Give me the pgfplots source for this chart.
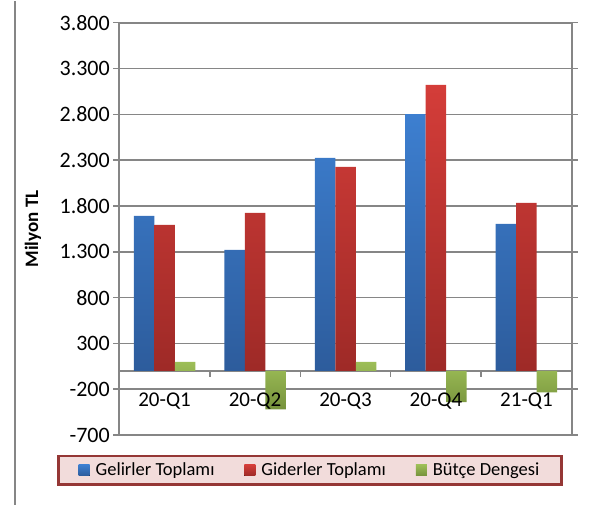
\documentclass[border=0pt]{standalone}
\usepackage{pgfplots}
\pgfplotsset{compat=1.18}
\usepackage{fontspec}
\setmainfont{Carlito}
\definecolor{gridgray}{HTML}{868686}
\definecolor{blueT}{HTML}{3D7FD0}
\definecolor{blueB}{HTML}{2D5C9C}
\definecolor{redT}{HTML}{D43D39}
\definecolor{redB}{HTML}{9E2A27}
\definecolor{greenT}{HTML}{9DBE57}
\definecolor{greenB}{HTML}{76923C}
\definecolor{legred}{HTML}{953735}
\definecolor{legpink}{HTML}{F2DCDB}
\pgfplotstableread{
x gel gid but
0 1692 1594 98
1 1321 1725 -420
2 2325 2227 98
3 2802 3122 -340
4 1605 1834 -235
}\data
\begin{document}
\begin{tikzpicture}
\draw[gridgray, line width=1.5bp] (15bp,0bp) -- (15bp,504bp);
\begin{axis}[
  set layers=standard,
  at={(119.3bp,69.7bp)}, anchor=south west,
  scale only axis, width=452.4bp, height=412.3bp,
  ybar=0pt, bar width=20.5bp,
  xmin=-0.5, xmax=4.5, ymin=-700, ymax=3800,
  xtick={0,1,2,3,4}, xticklabels={20-Q1,20-Q2,20-Q3,20-Q4,21-Q1},
  x tick style={draw=none},
  xticklabel style={anchor=north, inner sep=0pt, yshift=48bp, font=\fontsize{21bp}{24bp}\selectfont, /pgfplots/on layer=axis foreground},
  ytick={-700,-200,...,3800},
  yticklabel style={font=\fontsize{22bp}{25bp}\selectfont},
  /pgf/number format/.cd, 1000 sep={.}, assume math mode=true, /pgfplots/.cd,
  ymajorgrids, grid style={gridgray, line width=1.5bp},
  axis line style={gridgray, line width=1.8bp},
  y tick style={gridgray, line width=1.5bp},
  tick align=outside, major tick length=6bp,
  extra y ticks={0}, extra y tick labels={},
  extra y tick style={grid=major, y tick style={draw=none}},
  ylabel={Milyon TL},
  ylabel style={at={(axis description cs:-0.1908,0.5)}, anchor=center, font=\bfseries\fontsize{19bp}{21bp}\selectfont},
  legend columns=3,
  legend style={at={(0.4215,-0.0854)}, anchor=center, draw=legred, line width=2.5bp, fill=legpink,
    font=\fontsize{18.5bp}{21bp}\selectfont, inner xsep=20bp, inner ysep=5bp,
    /tikz/every even column/.append style={column sep=28bp}},
  legend image code/.code={\fill[#1] (0bp,-5.5bp) rectangle (11bp,5.5bp); \path (0bp,0bp) -- (15bp,0bp);},
]
\addplot[draw=none, top color=blueT, bottom color=blueB] table[x=x,y=gel] {\data};
\addplot[draw=none, top color=redT, bottom color=redB] table[x=x,y=gid] {\data};
\addplot[draw=none, top color=greenT, bottom color=greenB] table[x=x,y=but] {\data};
\legend{Gelirler Toplamı, Giderler Toplamı, Bütçe Dengesi}
\pgfplotsinvokeforeach{0.5,1.5,2.5,3.5}{
  \draw[gridgray, line width=1.5bp] (axis cs:#1,0) -- ([yshift=-6bp]axis cs:#1,0);
}
\end{axis}
\path (0bp,0bp) rectangle (595bp,504bp);
\end{tikzpicture}
\end{document}
